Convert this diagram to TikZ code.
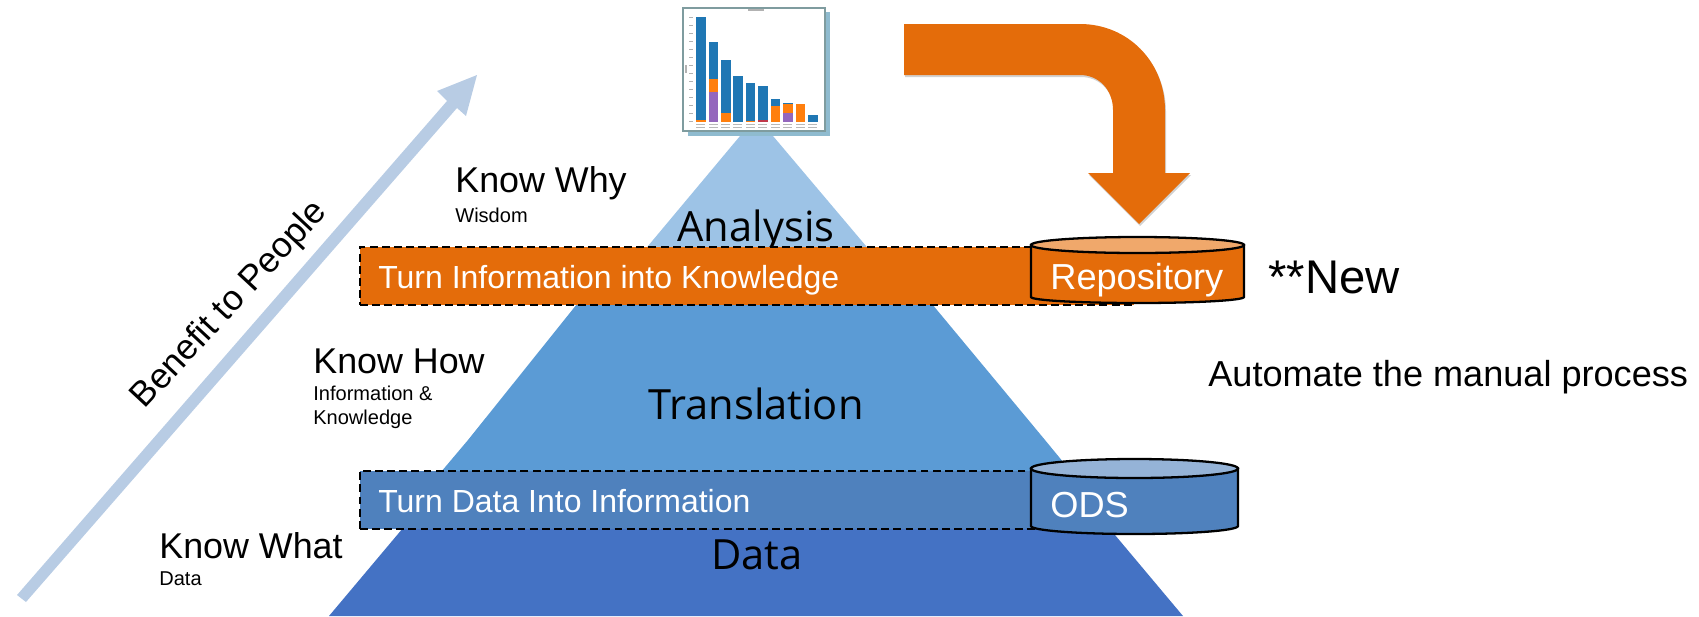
\documentclass[tikz,border=0pt]{standalone}
\usepackage{fontspec}
\setmainfont{Liberation Sans}
\newfontfamily\nameFont{Open Sans}
\definecolor{pyrTop}{HTML}{9DC3E6}
\definecolor{pyrMid}{HTML}{5B9BD5}
\definecolor{pyrLow}{HTML}{4472C4}
\definecolor{bandBlue}{HTML}{4F81BD}
\definecolor{bandOrange}{HTML}{E46C0A}
\definecolor{lidBlue}{HTML}{95B3D7}
\definecolor{lidOrange}{HTML}{F0A86B}
\definecolor{riseArrow}{HTML}{B8CCE4}
\definecolor{barBlue}{HTML}{1F77B4}
\definecolor{barOrange}{HTML}{FF7F0E}
\definecolor{barPurple}{HTML}{9467BD}
\definecolor{barRed}{HTML}{C0394B}
\definecolor{chartBack}{HTML}{8FBBCF}
\definecolor{chartFrame}{HTML}{7F9C9F}
\tikzset{
  x=0.02cm,y=-0.02cm,
  band/.style={draw=black,line width=1.1pt,dash pattern=on 4.5pt off 2.4pt,inner sep=0pt,anchor=north west},
  drum/.style={draw=black,line width=1.3pt},
  lbl/.style={inner sep=0pt,anchor=west,align=left},
  head/.style={lbl,font=\fontsize{20.4}{24}\selectfont},
  sub/.style={lbl,font=\fontsize{11.4}{13.5}\selectfont},
  inband/.style={lbl,text=white,font=\fontsize{18.2}{21}\selectfont},
  indrum/.style={lbl,text=white,font=\fontsize{20.6}{24}\selectfont},
  layer/.style={inner sep=0pt,font=\nameFont\fontsize{23.7}{28}\selectfont},
}
\begin{document}
\begin{tikzpicture}
\useasboundingbox (0,0) rectangle (1699,616);
% pyramid
\fill[pyrLow] (329,616) -- (403,528) -- (423,500) -- (1087,500) -- (1115,535) -- (1183,616) -- cycle;
\fill[pyrMid] (430,485) -- (468,440) -- (577,304) -- (587,292) -- (922,292) -- (932,304) -- (1045,440) -- (1082,485) -- cycle;
\fill[pyrTop] (640,257) -- (648,246) -- (740,136) -- (773,136) -- (866,246) -- (875,257) -- cycle;
\node[layer] (lAnalysis) at (756,231) {Analysis};
% rising arrow
\fill[riseArrow] (17,595) -- (447,101) -- (437,91) -- (477,75) -- (466,116) -- (457,108) -- (26,602) -- cycle;
% chart
\fill[chartBack] (688,12) rectangle (830,136);
\filldraw[fill=white,draw=chartFrame,line width=1pt] (683,8) rectangle (825,131);
\fill[gray!60] (748,9) rectangle (764,10.5);
\fill[gray!60] (685,65) rectangle (686.5,73);
\foreach \ty in {17,25,33,41,49,57,65,73,81,89,97,105,113,121}
  \fill[gray!60] (689,\ty) rectangle (693,\ty+0.9);
\foreach \lx in {696,708.5,721,733,745.5,758,770.5,783,795.5,808}{
  \fill[gray!55] (\lx,124) rectangle (\lx+9,125);
  \fill[gray!55] (\lx,127) rectangle (\lx+9,128);
}
\foreach \bx/\by/\bc in {696/17/barBlue,708.5/42/barBlue,721/60/barBlue,733/76/barBlue,745.5/83/barBlue,758/86/barBlue,770.5/99/barBlue,783/103/barBlue,795.5/104/barOrange,808/115/barBlue}
  \fill[\bc] (\bx,\by) rectangle (\bx+9.5,122);
\fill[barOrange] (696,120) rectangle (705.5,122);
\fill[barOrange] (708.5,79) rectangle (718,92);
\fill[barPurple] (708.5,92) rectangle (718,122);
\fill[barOrange] (721,113) rectangle (730.5,122);
\fill[barOrange] (745.5,121) rectangle (755,122);
\fill[barRed] (758,120) rectangle (767.5,122);
\fill[barOrange] (770.5,106) rectangle (780,122);
\fill[barOrange] (783,104) rectangle (792.5,113);
\fill[barPurple] (783,113) rectangle (792.5,122);
% orange bent arrow
\fill[black,opacity=0.18,shift={(1,2)}] (904,24) -- (1080,24) .. controls (1128,24) and (1165,62) .. (1165,110) -- (1165,173) -- (1190,173) -- (1139,224) -- (1088,173) -- (1113,173) -- (1113,110) .. controls (1113,90) and (1099,75) .. (1080,75) -- (904,75) -- cycle;
\fill[bandOrange] (904,24) -- (1080,24) .. controls (1128,24) and (1165,62) .. (1165,110) -- (1165,173) -- (1190,173) -- (1139,224) -- (1088,173) -- (1113,173) -- (1113,110) .. controls (1113,90) and (1099,75) .. (1080,75) -- (904,75) -- cycle;
% bands
\node[band,fill=bandOrange,minimum width=15.48cm,minimum height=1.16cm] (bandOrg) at (359,246) {};
\node[band,fill=bandBlue,minimum width=14.2cm,minimum height=1.16cm] (bandBl) at (359,470) {};
% drums
\filldraw[drum,fill=bandOrange] (1031,245) -- (1031,297) arc[start angle=180,end angle=0,x radius=106.5,y radius=6] -- (1244,245) -- cycle;
\filldraw[drum,fill=lidOrange] (1137.5,245) ellipse[x radius=106.5,y radius=8];
\filldraw[drum,fill=bandBlue] (1031,468.5) -- (1031,526) arc[start angle=180,end angle=0,x radius=103.5,y radius=8] -- (1238,468.5) -- cycle;
\filldraw[drum,fill=lidBlue] (1134.5,468.5) ellipse[x radius=103.5,y radius=9.5];
% text
\node[layer] (lTranslation) at (756,404) {Translation};
\node[layer] (lData) at (757,555) {Data};
\node[inband] (tOrange) at (378,280) {Turn Information into Knowledge};
\node[inband] (tBlue) at (378,501) {Turn Data Into Information};
\node[indrum] (tRepo) at (1050,280) {Repository};
\node[indrum] (tOds) at (1050,505) {ODS};
\node[head] (why) at (455,183) {Know Why};
\node[sub] (wisdom) at (455,215) {Wisdom};
\node[head] (how) at (313,361) {Know How};
\node[sub,anchor=north west] (info) at (313,386) {Information \&\\Knowledge};
\node[head] (what) at (159,546) {Know What};
\node[sub] (data) at (159,579) {Data};
\node[inner sep=0pt,rotate=47,font=\fontsize{20.1}{24}\selectfont] (benefit) at (230,305) {Benefit to People};
\node[lbl,font=\fontsize{26.9}{30}\selectfont] (new) at (1268,277) {**New};
\node[lbl,font=\fontsize{20.55}{24}\selectfont] (auto) at (1208,377.5) {Automate the manual process};
\end{tikzpicture}
\end{document}
